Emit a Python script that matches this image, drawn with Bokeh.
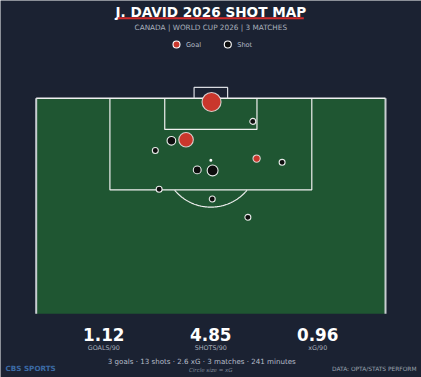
import numpy as np
from bokeh.plotting import figure
from bokeh.models import Range1d
from bokeh.core.properties import value
from bokeh.embed import file_html
from bokeh.resources import INLINE

# ---------------- data ----------------
# shot locations (Opta 0-100 coords): length (100 = goal line) and width (0 = left touchline)
shot_len = [99.3, 95.7, 92.1, 92.3, 90.3, 88.8, 88.8, 88.1, 86.7, 86.6, 83.1, 81.3, 77.9]
shot_wid = [50.2, 62.0, 38.7, 42.9, 34.1, 63.1, 63.1, 70.4, 46.1, 50.5, 35.2, 50.4, 60.6]
shot_xg = [0.82, 0.08, 0.17, 0.48, 0.08, 0.12, 0.08, 0.08, 0.14, 0.27, 0.08, 0.08, 0.08]
shot_outcome = ["Goal", "Shot", "Shot", "Goal", "Shot", "Goal", "Shot", "Shot",
                "Shot", "Shot", "Shot", "Shot", "Shot"]

stat_values = ["1.12", "4.85", "0.96"]
stat_labels = ["GOALS/90", "SHOTS/90", "xG/90"]
legend_labels = ["Goal", "Shot"]

title_text = "J. DAVID 2026 SHOT MAP"
subtitle_text = "CANADA | WORLD CUP 2026 | 3 MATCHES"
summary_text = "3 goals  ·  13 shots  ·  2.6 xG  ·  3 matches  ·  241 minutes"
note_text = "Circle size = xG"
brand_text = "CBS SPORTS"
source_text = "DATA: OPTA/STATS PERFORM"

# ---------------- styling ----------------
BG = "#1b2232"
PITCH = "#1f5632"
GOAL_RED = "#c9372c"
SHOT_BLACK = "#0d0d0d"
W, H = 421, 377

# pixel <-> data helpers (layout only)
PX_L, PX_R = 35.7, 385.0        # pitch left/right edge in px
PY_TOP, PY_BOT = 97.7, 313.3    # goal line / bottom of shown pitch in px
SX = (PX_R - PX_L) / 100.0
SY = (PY_BOT - PY_TOP) / 40.0


def dx(px):
    return (px - PX_L) / SX


def dy(py):
    return 100.0 - (py - PY_TOP) / SY


def base(py, fs):
    # baseline correction for rendered text
    return dy(py - 0.3 * fs)


p = figure(width=W, height=H, output_backend="svg", toolbar_location=None,
           x_range=Range1d(dx(0), dx(W)), y_range=Range1d(dy(H), dy(0)),
           x_axis_type=None, y_axis_type=None, min_border=0)
p.background_fill_color = BG
p.border_fill_color = BG
p.outline_line_color = None
p.grid.visible = False

LINE = "#f0f0f0"

# pitch
p.quad(left=0, right=100, bottom=60, top=100, fill_color=PITCH, line_color=None)
p.multi_line(xs=[[0, 0], [100, 100]], ys=[[60, 100], [60, 100]],
             line_color="#c9cdd2", line_width=2)
p.line(x=[0, 100], y=[100, 100], line_color=LINE, line_width=1.5)
# penalty box
p.line(x=[21.1, 21.1, 78.9, 78.9], y=[100, 83, 83, 100], line_color=LINE, line_width=1.2)
# six-yard box
p.line(x=[36.8, 36.8, 63.2, 63.2], y=[100, 94.2, 94.2, 100], line_color=LINE, line_width=1.2)
# goal
p.line(x=[45.2, 45.2, 54.8, 54.8], y=[100, 102, 102, 100], line_color="#d8dbe0", line_width=1.2)
# penalty spot
p.scatter(x=[50], y=[88.5], size=3, fill_color="white", line_color=None)
# D arc
t = np.linspace(-np.pi / 2, np.pi / 2, 200)
ax = 50 + 13.46 * np.sin(t)
ay = 88.5 - 8.71 * np.cos(t)
m = ay < 83
p.line(x=ax[m], y=ay[m], line_color=LINE, line_width=1.2)

# shots
sizes = [21 * np.sqrt(v) for v in shot_xg]
sx = [w for w, o in zip(shot_wid, shot_outcome) if o == "Shot"]
sy = [l for l, o in zip(shot_len, shot_outcome) if o == "Shot"]
ss = [s for s, o in zip(sizes, shot_outcome) if o == "Shot"]
gx = [w for w, o in zip(shot_wid, shot_outcome) if o == "Goal"]
gy = [l for l, o in zip(shot_len, shot_outcome) if o == "Goal"]
gs = [s for s, o in zip(sizes, shot_outcome) if o == "Goal"]
p.scatter(x=sx, y=sy, size=ss, fill_color=SHOT_BLACK, line_color="white",
          line_alpha=0.9, line_width=1.1)
p.scatter(x=gx, y=gy, size=gs, fill_color=GOAL_RED, line_color="#e8e8e8",
          line_alpha=0.85, line_width=1.1)

FONT = value("DejaVu Sans")

# title
p.text(x=[dx(210.3)], y=[base(15.3, 13.6)], text=[title_text], text_font=FONT,
       text_font_size="13.6px", text_font_style="bold", text_color="white",
       text_align="center", text_baseline="alphabetic")
p.line(x=[dx(117.3), dx(303.3)], y=[dy(17.7), dy(17.7)], line_color="#d42b2b", line_width=2)
p.text(x=[dx(210.3)], y=[base(29.3, 7.3)], text=[subtitle_text], text_font=FONT,
       text_font_size="7.3px", text_color="#a9b0bc",
       text_align="center", text_baseline="alphabetic")

# legend
p.scatter(x=[dx(176), dx(227.3)], y=[dy(44), dy(44)], size=7,
          fill_color=[GOAL_RED, SHOT_BLACK], line_color="white", line_width=1.1)
p.text(x=[dx(185.5), dx(236.7)], y=[dy(44)] * 2, text=legend_labels, text_font=FONT,
       text_font_size="6.6px", text_color="#b5bcc8",
       text_align="left", text_baseline="middle")

# stats
cx = [dx(103.3), dx(210.3), dx(317.2)]
p.text(x=cx, y=[base(339.3, 16.8)] * 3, text=stat_values, text_font=FONT,
       text_font_size="16.8px", text_font_style="bold", text_color="white",
       text_align="center", text_baseline="alphabetic")
p.text(x=cx, y=[base(349.2, 6.4)] * 3, text=stat_labels, text_font=FONT,
       text_font_size="6.4px", text_color="#a9b0bc",
       text_align="center", text_baseline="alphabetic")

p.text(x=[dx(210.3)], y=[base(363.3, 7.1)], text=[summary_text], text_font=FONT,
       text_font_size="7.1px", text_color="#b5bcc8",
       text_align="center", text_baseline="alphabetic")
p.text(x=[dx(210.3)], y=[base(371.3, 5.5)], text=[note_text], text_font=FONT,
       text_font_size="5.5px", text_font_style="italic", text_color="#7f8796",
       text_align="center", text_baseline="alphabetic")
p.text(x=[dx(5)], y=[base(370.5, 7.2)], text=[brand_text], text_font=FONT,
       text_font_size="7.2px", text_font_style="bold", text_color="#3b6ba5",
       text_align="left", text_baseline="alphabetic")
p.text(x=[dx(416)], y=[base(370.5, 5.9)], text=[source_text], text_font=FONT,
       text_font_size="5.9px", text_color="#9aa2ae",
       text_align="right", text_baseline="alphabetic")

open("out.html", "w").write(file_html(p, INLINE))
